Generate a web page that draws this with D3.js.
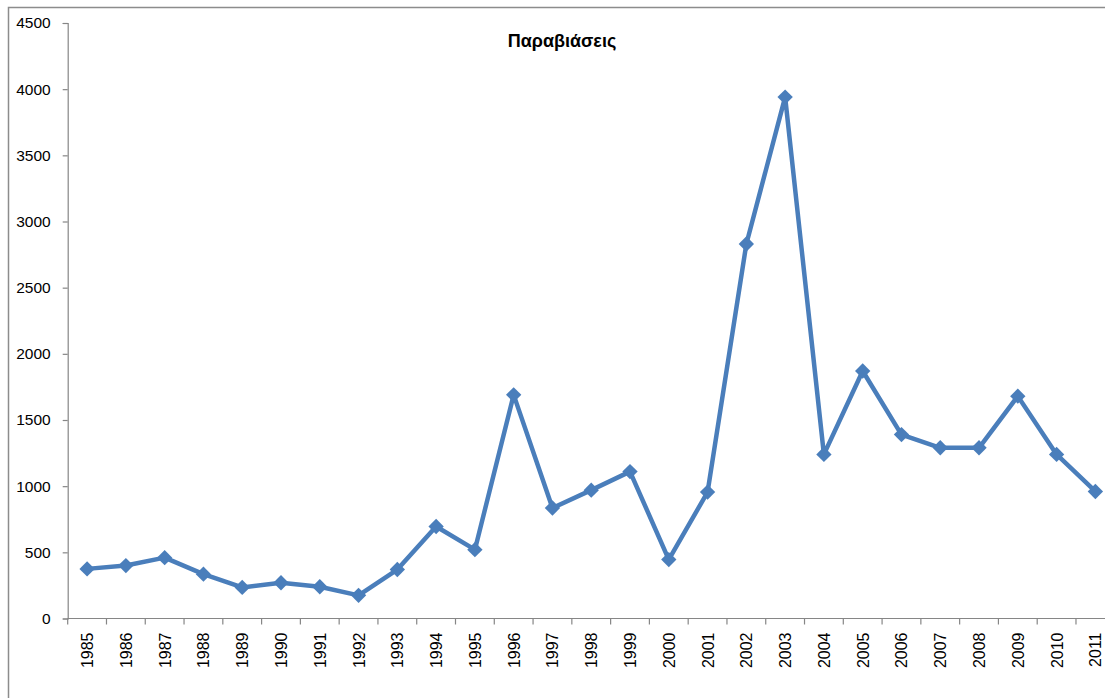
<!DOCTYPE html>
<html>
<head>
<meta charset="utf-8">
<script src="https://cdn.jsdelivr.net/npm/d3@7"></script>
<style>
body { margin: 0; background: #fff; }
text { font-family: "Liberation Sans", Arial, sans-serif; }
</style>
</head>
<body>
<div id="viz"></div>
<script>
var years = ['1985','1986','1987','1988','1989','1990','1991','1992','1993','1994','1995','1996','1997','1998',
    '1999','2000','2001','2002','2003','2004','2005','2006','2007','2008','2009','2010','2011'];
var violations = [375, 400, 460, 335, 235, 270, 240, 175, 370, 695, 520, 1690, 835, 970,
    1110, 445, 955, 2830, 3940, 1240, 1870, 1390, 1290, 1290, 1680, 1240, 960];
var yTicks = [0, 500, 1000, 1500, 2000, 2500, 3000, 3500, 4000, 4500];
var title = 'Παραβιάσεις';

var width = 1105, height = 698;
var margin = {top: 23, left: 67.7, bottom: 618.5};
var catWidth = 38.78;

var svg = d3.select('#viz').append('svg')
    .attr('width', width)
    .attr('height', height);

svg.append('rect')
    .attr('x', 8.5).attr('y', 7.5)
    .attr('width', 1120).attr('height', 720)
    .attr('fill', 'none')
    .attr('stroke', '#8c8c8c')
    .attr('stroke-width', 1.5);

var x = d3.scaleBand()
    .domain(years)
    .range([margin.left, margin.left + catWidth * years.length]);

var y = d3.scaleLinear()
    .domain([0, 4500])
    .range([margin.bottom, margin.top]);

// y axis
var yAxis = svg.append('g')
    .attr('transform', 'translate(' + margin.left + ',0)')
    .call(d3.axisLeft(y).tickValues(yTicks).tickFormat(d3.format('d')).tickSize(5).tickPadding(12));
yAxis.selectAll('path, line').attr('stroke', '#868686').attr('stroke-width', 1.2);
yAxis.selectAll('text').attr('fill', '#000')
    .style('font-size', '15.5px')
    .style('font-family', '"Liberation Sans", Arial, sans-serif');

// x axis: ticks between categories
var xg = svg.append('g')
    .attr('transform', 'translate(0,' + margin.bottom + ')');
xg.append('line')
    .attr('x1', margin.left).attr('x2', width + 20)
    .attr('stroke', '#868686').attr('stroke-width', 1.2);
xg.selectAll('.tick')
    .data(years)
    .enter().append('line')
    .attr('x1', function(d) { return x(d); })
    .attr('x2', function(d) { return x(d); })
    .attr('y1', 0).attr('y2', 6)
    .attr('stroke', '#868686').attr('stroke-width', 1.2);
xg.selectAll('.lbl')
    .data(years)
    .enter().append('text')
    .attr('transform', function(d) {
        return 'translate(' + (x(d) + x.bandwidth() / 2 + 6) + ',14) rotate(-90)';
    })
    .attr('text-anchor', 'end')
    .style('font-size', '16px')
    .attr('fill', '#000')
    .text(function(d) { return d; });

// line
var line = d3.line()
    .x(function(d, i) { return x(years[i]) + x.bandwidth() / 2; })
    .y(function(d) { return y(d); });

svg.append('path')
    .datum(violations)
    .attr('d', line)
    .attr('fill', 'none')
    .attr('stroke', '#4a7ebb')
    .attr('stroke-width', 4.5)
    .attr('stroke-linejoin', 'round');

var diamond = d3.symbol().type(d3.symbolDiamond2).size(150);
svg.selectAll('.marker')
    .data(violations)
    .enter().append('path')
    .attr('d', diamond)
    .attr('transform', function(d, i) {
        return 'translate(' + (x(years[i]) + x.bandwidth() / 2) + ',' + y(d) + ')';
    })
    .attr('fill', '#4a7ebb');

svg.append('text')
    .attr('x', 562)
    .attr('y', 47)
    .attr('text-anchor', 'middle')
    .style('font-size', '18px')
    .attr('font-weight', 'bold')
    .attr('fill', '#000')
    .text(title);
</script>
</body>
</html>
